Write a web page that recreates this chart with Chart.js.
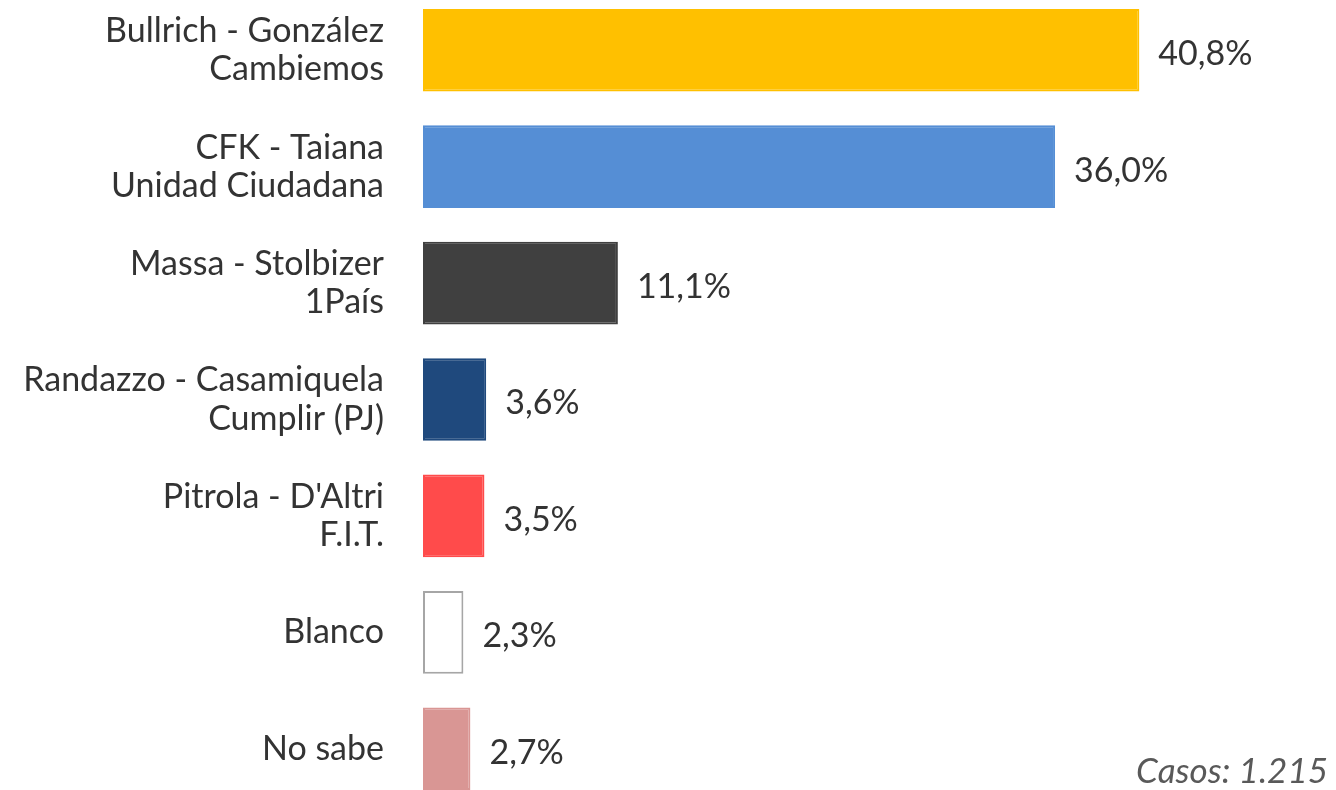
<!DOCTYPE html>
<html>
<head>
<meta charset="utf-8">
<script src="https://cdn.jsdelivr.net/npm/chart.js@4"></script>
<style>
    html, body { margin: 0; padding: 0; background: #fff; overflow: hidden; }
    #wrap { position: absolute; left: 0; top: -8px; width: 1336px; height: 815px; }
    #casos { position: absolute; right: 8px; top: 748px; font-family: Lato, sans-serif; font-style: italic; font-size: 35px; color: #595959; }
</style>
</head>
<body>
<div id="wrap"><canvas id="BarChart"></canvas></div>
<div id="casos">Casos: 1.215</div>
<script>
var categories = [
    ['Bullrich - González', 'Cambiemos'],
    ['CFK - Taiana', 'Unidad Ciudadana'],
    ['Massa - Stolbizer', '1País'],
    ['Randazzo - Casamiquela', 'Cumplir (PJ)'],
    ["Pitrola - D'Altri", 'F.I.T.'],
    'Blanco',
    'No sabe'
];
var values = [40.8, 36.0, 11.1, 3.6, 3.5, 2.3, 2.7];
var valuelabels = ['40,8%', '36,0%', '11,1%', '3,6%', '3,5%', '2,3%', '2,7%'];
var barcolors = ['#FFC000', '#558ED5', '#404040', '#1F497D', '#FF4B4B', '#FFFFFF', '#D99694'];
var bordercolors = ['#FFC000', '#558ED5', '#404040', '#1F497D', '#FF4B4B', '#A6A6A6', '#D99694'];

// etiquetas de valor a la derecha de cada barra
const valueLabelPlugin = {
    id: 'valueLabels',
    afterDatasetsDraw(chart) {
        const ctx = chart.ctx;
        const meta = chart.getDatasetMeta(0);
        ctx.save();
        ctx.font = '34px Lato, sans-serif';
        ctx.fillStyle = '#333333';
        ctx.textAlign = 'left';
        ctx.textBaseline = 'middle';
        meta.data.forEach(function (bar, i) {
            ctx.fillText(valuelabels[i], bar.x + 19, bar.y + 4);
        });
        ctx.restore();
    }
};

function initialchart() {
    const ctx = document.getElementById('BarChart');
    const data = {
        labels: categories,
        datasets: [{
            data: values,
            backgroundColor: barcolors,
            borderColor: bordercolors,
            borderWidth: 2,
            borderSkipped: false, // borde completo (barra "Blanco")
            categoryPercentage: 1,
            barPercentage: 0.71
        }]
    };
    const config = {
        type: 'bar',
        data: data,
        plugins: [valueLabelPlugin],
        options: {
            indexAxis: 'y',
            responsive: true,
            maintainAspectRatio: false,
            animation: false,
            layout: { padding: 0 },
            plugins: {
                legend: { display: false },
                tooltip: { enabled: false }
            },
            scales: {
                x: {
                    display: false,
                    min: 0,
                    max: 52
                },
                y: {
                    afterFit: function (scale) {
                        scale.width = 423;
                        scale.paddingTop = 0; // sin margen extra arriba/abajo
                        scale.paddingBottom = 0;
                    },
                    border: { display: false },
                    grid: { display: false, drawTicks: false },
                    ticks: {
                        padding: 39,
                        color: '#333333',
                        font: { family: 'Lato, sans-serif', size: 34, lineHeight: 1.12 }
                    }
                }
            }
        }
    };
    BarChart = new Chart(ctx, config);
}
var BarChart;
initialchart();
</script>
</body>
</html>
